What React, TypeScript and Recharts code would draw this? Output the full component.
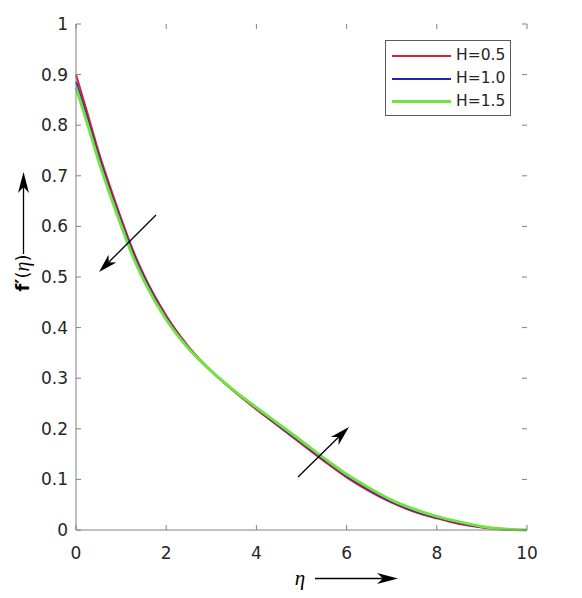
import React from 'react';
import { LineChart, Line, XAxis, YAxis, Legend } from 'recharts';

const eta = [0, 0.25, 0.5, 0.75, 1, 1.25, 1.5, 2, 2.5, 3, 3.5, 4, 4.5, 5, 5.5, 6, 6.5, 7, 7.5, 8, 8.5, 9, 9.5, 10];
const h05 = [0.900, 0.825, 0.748, 0.680, 0.616, 0.556, 0.505, 0.424, 0.362, 0.314, 0.274, 0.238, 0.204, 0.170, 0.136, 0.104, 0.077, 0.054, 0.036, 0.023, 0.012, 0.005, 0.001, 0];
const h10 = [0.886, 0.814, 0.739, 0.672, 0.609, 0.550, 0.500, 0.420, 0.360, 0.314, 0.275, 0.240, 0.206, 0.173, 0.139, 0.107, 0.080, 0.056, 0.038, 0.025, 0.014, 0.006, 0.0015, 0];
const h15 = [0.875, 0.804, 0.730, 0.664, 0.602, 0.543, 0.494, 0.416, 0.358, 0.314, 0.276, 0.242, 0.209, 0.176, 0.142, 0.110, 0.083, 0.059, 0.041, 0.027, 0.016, 0.007, 0.002, 0];

const xTicks = [0, 2, 4, 6, 8, 10];
const yTicks = [0, 0.1, 0.2, 0.3, 0.4, 0.5, 0.6, 0.7, 0.8, 0.9, 1];
const seriesNames = ['H=0.5', 'H=1.0', 'H=1.5'];
const seriesColors = ['#d42336', '#2424b4', '#72e23e'];

const data = eta.map((e, i) => ({ eta: e, a: h05[i], b: h10[i], c: h15[i] }));

const W = 582;
const H = 598;
const L = 76;
const R = 527;
const T = 24;
const B = 530;
const AXIS = '#808080';
const TXT = '#262626';
const FONT = 'DejaVu Sans, sans-serif';

const YTick = (props: any) => {
  const { y, payload } = props;
  return (
    <g>
      <line x1={L} x2={L + 5} y1={y} y2={y} stroke={AXIS} strokeWidth={1} />
      <line x1={R} x2={R - 5} y1={y} y2={y} stroke={AXIS} strokeWidth={1} />
      <text x={L - 8} y={y + 6} textAnchor="end" fontSize={17} fontFamily={FONT} fill={TXT}>{String(payload.value)}</text>
    </g>
  );
};

const XTick = (props: any) => {
  const { x, payload } = props;
  return (
    <g>
      <line x1={x} x2={x} y1={B} y2={B - 5} stroke={AXIS} strokeWidth={1} />
      <line x1={x} x2={x} y1={T} y2={T + 5} stroke={AXIS} strokeWidth={1} />
      <text x={x} y={B + 29} textAnchor="middle" fontSize={17} fontFamily={FONT} fill={TXT}>{String(payload.value)}</text>
    </g>
  );
};

const LegendBox = (props: any) => {
  const payload = props.payload || [];
  return (
    <div style={{ width: 124, height: 74, border: '1px solid #5a5a5a', background: '#fff', boxSizing: 'content-box', position: 'relative' }}>
      {payload.map((p: any, i: number) => (
        <div key={i} style={{ position: 'absolute', left: 0, top: 3 + i * 23, height: 23, display: 'flex', alignItems: 'center' }}>
          <div style={{ marginLeft: 6, width: 59, height: i === 2 ? 3 : 2, background: p.color }} />
          <span style={{ marginLeft: 5, fontFamily: FONT, fontSize: 15.5, color: TXT, lineHeight: '23px' }}>{p.value}</span>
        </div>
      ))}
    </div>
  );
};

function arrow(x1: number, y1: number, x2: number, y2: number, len: number, w: number) {
  const dx = x2 - x1;
  const dy = y2 - y1;
  const n = Math.sqrt(dx * dx + dy * dy);
  const ux = dx / n;
  const uy = dy / n;
  const px = -uy;
  const py = ux;
  const bx = x2 - ux * len;
  const by = y2 - uy * len;
  const nx = x2 - ux * len * 0.72;
  const ny = y2 - uy * len * 0.72;
  const pts = [
    [x2, y2],
    [bx + px * w / 2, by + py * w / 2],
    [nx, ny],
    [bx - px * w / 2, by - py * w / 2],
  ].map((p) => p.join(',')).join(' ');
  return (
    <g>
      <line x1={x1} y1={y1} x2={nx} y2={ny} stroke="#000" strokeWidth={1.3} />
      <polygon points={pts} fill="#000" />
    </g>
  );
}

export default function App() {
  return (
    <div style={{ position: 'absolute', left: 0, top: 0, width: W, height: H, background: '#fff' }}>
      <LineChart width={W} height={H} data={data} margin={{ top: T, right: W - R, bottom: 0, left: 0 }}>
        <XAxis
          dataKey="eta"
          type="number"
          domain={[0, 10]}
          ticks={xTicks}
          height={H - B}
          tickLine={false}
          tickSize={0}
          axisLine={{ stroke: AXIS }}
          tick={<XTick />}
          interval={0}
        />
        <XAxis xAxisId="top" orientation="top" dataKey="eta" type="number" domain={[0, 10]} height={0} tick={false} tickLine={false} axisLine={{ stroke: AXIS }} />
        <YAxis
          type="number"
          domain={[0, 1]}
          ticks={yTicks}
          width={L}
          tickLine={false}
          tickSize={0}
          axisLine={{ stroke: AXIS }}
          tick={<YTick />}
          interval={0}
        />
        <YAxis yAxisId="right" orientation="right" type="number" domain={[0, 1]} width={0} tick={false} tickLine={false} axisLine={{ stroke: AXIS }} />
        <Line type="monotone" dataKey="a" name={seriesNames[0]} stroke={seriesColors[0]} strokeWidth={2} dot={false} isAnimationActive={false} />
        <Line type="monotone" dataKey="b" name={seriesNames[1]} stroke={seriesColors[1]} strokeWidth={2} dot={false} isAnimationActive={false} />
        <Line type="monotone" dataKey="c" name={seriesNames[2]} stroke={seriesColors[2]} strokeWidth={3} dot={false} isAnimationActive={false} />
        <Legend
          content={<LegendBox />}
          layout="vertical"
          verticalAlign="middle"
          align="center"
          wrapperStyle={{ position: 'absolute', left: 385, top: 40, width: 126, height: 76 }}
        />
      </LineChart>
      <svg width={W} height={H} style={{ position: 'absolute', left: 0, top: 0, pointerEvents: 'none' }}>
        {arrow(156, 215, 99, 272, 19, 11)}
        {arrow(298, 477, 349, 427, 20, 11)}
        <text transform="translate(29,273) rotate(-90)" textAnchor="middle" fontSize={18} fontFamily={FONT} fill="#000">
          <tspan fontWeight="bold">f</tspan>
          <tspan fontWeight="bold" fontSize={20}>′</tspan>
          <tspan>(</tspan>
          <tspan fontStyle="italic" fontFamily="Liberation Serif, serif" fontSize={20}>η</tspan>
          <tspan>)</tspan>
        </text>
        {arrow(23.5, 254, 23.5, 172, 21, 11)}
        <text x={300} y={585} textAnchor="middle" fontSize={21} fontStyle="italic" fontFamily="Liberation Serif, serif" fill="#000">η</text>
        {arrow(315, 578.5, 398, 578.5, 21, 11)}
      </svg>
    </div>
  );
}
